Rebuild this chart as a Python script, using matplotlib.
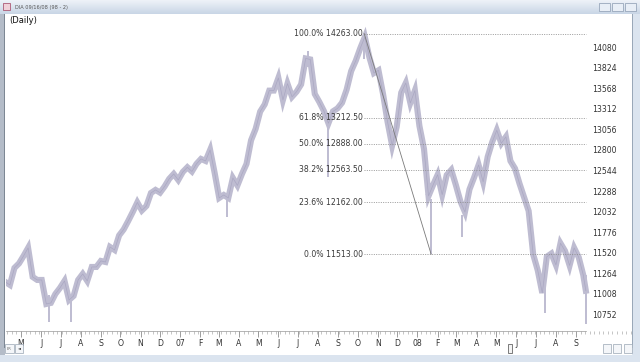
import numpy as np
import pandas as pd
import matplotlib
matplotlib.use("Agg")
import matplotlib.pyplot as plt
import matplotlib.dates as mdates
from matplotlib.patches import Rectangle
from matplotlib.ticker import FuncFormatter

# ---------------- data (weekly closes) ----------------
week_start = "2006-04-07"
closes = [
    11168, 11131, 11343, 11399, 11492, 11592, 11231, 11193, 11193, 10894,
    10907, 11019, 11093, 11181, 10944, 10994, 11193, 11268, 11181, 11355,
    11355, 11430, 11417, 11604, 11567, 11748, 11822, 11928, 12040, 12159,
    12059, 12115, 12277, 12315, 12281, 12358, 12452, 12514, 12439, 12539,
    12597, 12545, 12639, 12701, 12676, 12813, 12526, 12215, 12252, 12215,
    12464, 12371, 12514, 12639, 12934, 13075, 13291, 13381, 13552, 13553,
    13710, 13436, 13639, 13476, 13539, 13630, 13953, 13941, 13511, 13411,
    13299, 13146, 13294, 13331, 13402, 13564, 13796, 13924, 14081, 14221,
    13968, 13771, 13805, 13512, 13162, 12869, 13101, 13527, 13647, 13399,
    13553, 13112, 12827, 12240, 12377, 12504, 12256, 12501, 12564, 12377,
    12174, 12040, 12322, 12468, 12626, 12417, 12728, 12913, 13058, 12896,
    12976, 12676, 12582, 12393, 12222, 12053, 11511, 11313, 11031, 11483,
    11522, 11380, 11650, 11554, 11374, 11592, 11476, 11255,
]
last_date = "2008-09-16"
last_close = 11059

# single-day spikes visible in the bars
spike_dates = ["2006-06-13", "2006-07-17", "2007-03-14", "2007-07-17", "2007-08-16",
               "2007-10-11", "2008-01-22", "2008-03-10", "2008-07-15", "2008-09-16"]
spike_high = [11000, 11000, 12200, 14040, 13100, 14263, 12200, 12000, 11100, 11250]
spike_low = [10673, 10673, 11982, 13850, 12480, 13950, 11513, 11733, 10782, 10650]

# fibonacci retracement
fib_high_date, fib_high = "2007-10-11", 14263.0
fib_low_date, fib_low = "2008-01-22", 11513.0
fib_pct = [100.0, 61.8, 50.0, 38.2, 23.6, 0.0]
fib_vals = [14263.00, 13212.50, 12888.00, 12563.50, 12162.00, 11513.00]

price_ticks = [10752, 11008, 11264, 11520, 11776, 12032, 12288, 12544,
               12800, 13056, 13312, 13568, 13824, 14080]

# ---------------- figure ----------------
W, H = 640, 362
fig = plt.figure(figsize=(W / 100, H / 100), dpi=100)
fig.patch.set_facecolor("white")
plt.rcParams["font.family"] = ["DejaVu Sans"]


def px_rect(x, y, w, h, **kw):
    # rectangle given in pixel coords from the top-left corner
    r = Rectangle((x / W, 1 - (y + h) / H), w / W, h / H, transform=fig.transFigure, **kw)
    fig.add_artist(r)
    return r


# window chrome
grad = fig.add_axes([0, 1 - 14 / H, 1, 14 / H])
grad.imshow(np.linspace(0, 1, 20).reshape(-1, 1), aspect="auto",
            cmap=matplotlib.colors.LinearSegmentedColormap.from_list("t", ["#eef2f8", "#c9d6e6"]))
grad.axis("off")
fig.text(15 / W, 1 - 7 / H, "DIA 09/16/08 (98 - 2)", fontsize=3.6, color="#555555", va="center")
px_rect(3, 3, 7, 7, facecolor="#f0d0d8", edgecolor="#a04060", linewidth=0.5)
for bx in (599, 612, 625):
    px_rect(bx, 3, 11, 8, facecolor="#e8eef6", edgecolor="#8a9ab0", linewidth=0.5)
px_rect(0, 14, 5, 348, facecolor="#b4bcc8", edgecolor="none")
px_rect(4, 14, 1.2, 334, facecolor="#7d8794", edgecolor="none")
px_rect(632, 14, 8, 348, facecolor="#dbe4ef", edgecolor="none")
px_rect(632, 14, 1, 334, facecolor="#9aa8b8", edgecolor="none")
px_rect(0, 355, 640, 7, facecolor="#dbe4ef", edgecolor="none")

# scroll bar
px_rect(5, 344, 9, 9, facecolor="#f4f6f9", edgecolor="#9aa6b4", linewidth=0.5)
px_rect(15, 344, 8, 9, facecolor="#f4f6f9", edgecolor="#9aa6b4", linewidth=0.5)
fig.text(6.5 / W, 1 - 348.5 / H, "ER", fontsize=2.6, color="#666666", va="center")
fig.text(19 / W, 1 - 348.5 / H, "\u25c4", fontsize=2.8, color="#333333", va="center", ha="center")
px_rect(26, 348.5, 570, 0.8, facecolor="#b8c0cc", edgecolor="none")
px_rect(508, 344, 4, 9, facecolor="#f4f4f4", edgecolor="#666666", linewidth=0.6)
for bx in (603, 613, 624):
    px_rect(bx, 344, 8, 9, facecolor="#f4f6f9", edgecolor="#9aa6b4", linewidth=0.5)

# main axes
ax = fig.add_axes([6 / W, 31 / H, 626 / W, (331 - 14) / H])
ax.set_facecolor("white")

dates = list(pd.date_range(week_start, periods=len(closes), freq="7D")) + [pd.Timestamp(last_date)]
vals = closes + [last_close]
band = "#bebcd1"
ax.plot(dates, vals, color=band, linewidth=4.4, solid_joinstyle="miter", zorder=2)
ax.plot(dates, vals, color="#aaa7c2", linewidth=0.5, zorder=3)
ax.vlines(pd.to_datetime(spike_dates), spike_low, spike_high, color=band, linewidth=1.4, zorder=2)

# fib levels
fx0 = pd.Timestamp(fib_high_date)
fx1 = pd.Timestamp(last_date)
for p, v in zip(fib_pct, fib_vals):
    ax.plot([fx0, fx1], [v, v], color="#8c8c8c", linewidth=0.6, linestyle=(0, (1.2, 1.6)), zorder=4)
    ax.annotate(f"{p:.1f}% {v:.2f}", xy=(mdates.date2num(fx0), v), xytext=(-1, 0),
                textcoords="offset points", ha="right", va="center",
                fontsize=5.6, color="#3a3a3a", zorder=5)
ax.plot([fx0, pd.Timestamp(fib_low_date)], [fib_high, fib_low], color="#7a7a7a", linewidth=0.6, zorder=4)

ax.set_xlim(mdates.date2num(pd.Timestamp("2006-04-08")), mdates.date2num(pd.Timestamp("2008-11-26")))
ax.set_ylim(10557, 14507)

# price labels inside on the right
for t in price_ticks:
    ax.text(0.9355, t, str(t), transform=ax.get_yaxis_transform(), fontsize=5.6,
            color="#333333", va="center", ha="left")
ax.set_yticks([])

ax.text(0.005, 14430, "(Daily)", transform=ax.get_yaxis_transform(), fontsize=6,
        color="#111111", va="center", ha="left")


def month_label(x, pos):
    d = mdates.num2date(x)
    if d.month == 1:
        return d.strftime("%y")
    return d.strftime("%b")[0]


months = pd.date_range("2006-05-01", "2008-09-01", freq="MS")
ax.set_xticks(mdates.date2num(months))
ax.xaxis.set_major_formatter(FuncFormatter(month_label))
ax.xaxis.set_minor_locator(mdates.WeekdayLocator(byweekday=mdates.MO))
ax.tick_params(axis="x", which="major", length=4, width=0.5, color="#777777",
               labelsize=5.6, labelcolor="#333333", pad=1.5, direction="out")
ax.tick_params(axis="x", which="minor", length=2.5, width=0.4, color="#999999", direction="out")
for s in ("top", "left", "right"):
    ax.spines[s].set_visible(False)
ax.spines["bottom"].set_color("#999999")
ax.spines["bottom"].set_linewidth(0.5)
ax.spines["bottom"].set_bounds(mdates.date2num(pd.Timestamp("2006-04-08")), mdates.date2num(fx1))

fig.savefig("out.png", dpi=100)
